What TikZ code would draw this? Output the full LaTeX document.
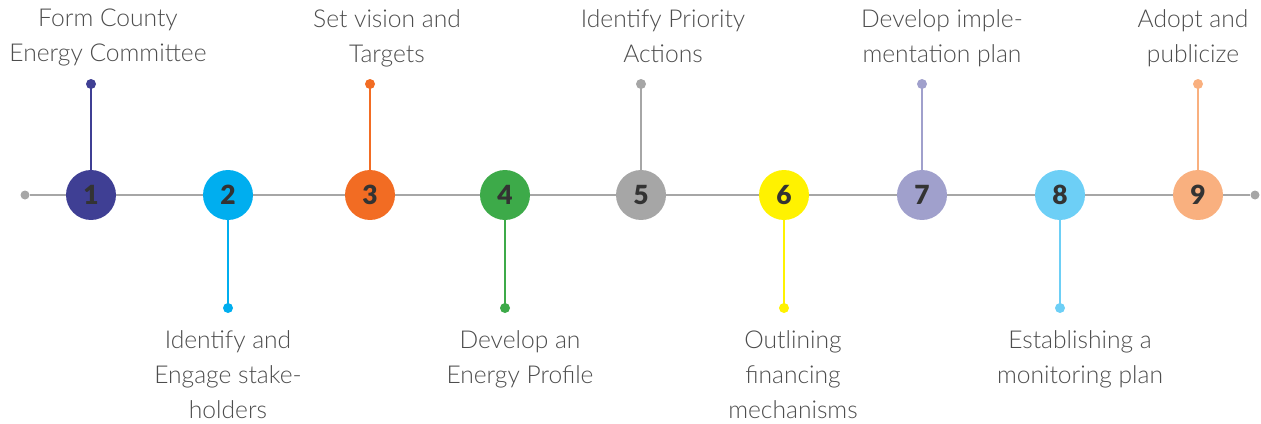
\documentclass[tikz,border=0pt]{standalone}
\usepackage{fontspec}
\setmainfont{Lato}[UprightFont=* Light, BoldFont=* Black]
\usetikzlibrary{positioning}
\definecolor{col1}{HTML}{3F3F94}
\definecolor{col2}{HTML}{00AEEF}
\definecolor{col3}{HTML}{F26C23}
\definecolor{col4}{HTML}{3DAA49}
\definecolor{col5}{HTML}{A6A6A6}
\definecolor{col6}{HTML}{FFF200}
\definecolor{col7}{HTML}{A0A0CC}
\definecolor{col8}{HTML}{6DCFF6}
\definecolor{col9}{HTML}{F9B07F}
\definecolor{grigiolinea}{HTML}{A6A6A6}
\definecolor{testogrigio}{HTML}{4D4D4D}
\definecolor{cifra}{HTML}{333333}
\tikzset{
  tappa/.style={circle, fill=#1, minimum size=1cm, inner sep=0pt, text=cifra,
    font=\fontsize{15}{15}\selectfont\bfseries},
  punto/.style={circle, fill=#1, minimum size=0.2cm, inner sep=0pt},
  gambo/.style={draw=#1, line width=1.4pt},
  testo/.style={align=center, inner sep=0pt, text=testogrigio,
    font=\fontsize{14}{19.9}\selectfont},
}

\begin{document}
\begin{tikzpicture}[x=0.02cm, y=-0.02cm]
    \useasboundingbox (0,0) rectangle (1261,423);
    % estremi della linea
    \node[punto=grigiolinea, minimum size=0.18cm] (inizio) at (25,195) {};
    \node[punto=grigiolinea, minimum size=0.18cm] (fine) at (1255,195) {};
    % linea del tempo
    \draw[grigiolinea, line width=1.7pt] (inizio) -- (fine);
    % tappe
    \node[tappa=col1] (s1) at (91,195) {1};
    \node[tappa=col2] (s2) at (228,195) {2};
    \node[tappa=col3] (s3) at (370,195) {3};
    \node[tappa=col4] (s4) at (505,195) {4};
    \node[tappa=col5] (s5) at (641,195) {5};
    \node[tappa=col6] (s6) at (784,195) {6};
    \node[tappa=col7] (s7) at (922,195) {7};
    \node[tappa=col8] (s8) at (1060,195) {8};
    \node[tappa=col9] (s9) at (1198,195) {9};
    % punti sopra (dispari) e sotto (pari)
    \node[punto=col1] (d1) at (91,84) {};
    \node[punto=col2] (d2) at (228,308) {};
    \node[punto=col3] (d3) at (370,84) {};
    \node[punto=col4] (d4) at (505,308) {};
    \node[punto=col5] (d5) at (641,84) {};
    \node[punto=col6] (d6) at (784,308) {};
    \node[punto=col7] (d7) at (922,84) {};
    \node[punto=col8] (d8) at (1060,308) {};
    \node[punto=col9] (d9) at (1198,84) {};
    % gambi
    \draw[gambo=col1] (s1.north) -- (d1.center);
    \draw[gambo=col2] (s2.south) -- (d2.center);
    \draw[gambo=col3] (s3.north) -- (d3.center);
    \draw[gambo=col4] (s4.south) -- (d4.center);
    \draw[gambo=col5] (s5.north) -- (d5.center);
    \draw[gambo=col6] (s6.south) -- (d6.center);
    \draw[gambo=col7] (s7.north) -- (d7.center);
    \draw[gambo=col8] (s8.south) -- (d8.center);
    \draw[gambo=col9] (s9.north) -- (d9.center);
    % etichette sopra
    \node[testo, anchor=north] (t1) at (108,9) {Form County\\Energy Committee};
    \node[testo, anchor=north] (t3) at (387,9) {Set vision and\\Targets};
    \node[testo, anchor=north] (t5) at (663,9) {Identify Priority\\Actions};
    \node[testo, anchor=north] (t7) at (942,9) {Develop imple-\\mentation plan};
    \node[testo, anchor=north] (t9) at (1193,9) {Adopt and\\publicize};
    % etichette sotto
    \node[testo, below=0.34cm of d2] (t2) {Identify and\\Engage stake-\\holders};
    \node[testo, below=0.34cm of d4, xshift=0.3cm] (t4) {Develop an\\Energy Profile};
    \node[testo, below=0.34cm of d6, xshift=0.18cm] (t6) {Outlining\\financing\\mechanisms};
    \node[testo, below=0.34cm of d8, xshift=0.4cm] (t8) {Establishing a\\monitoring plan};
\end{tikzpicture}
\end{document}
